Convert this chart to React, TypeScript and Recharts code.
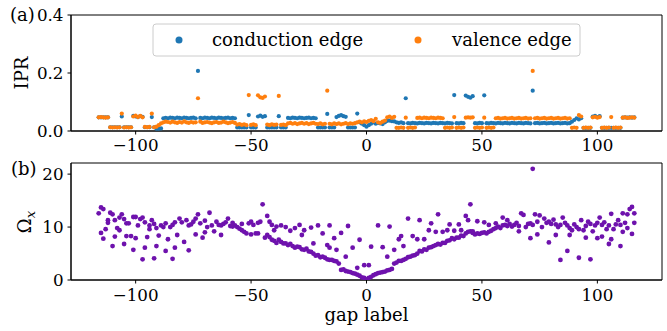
import React from 'react';
import { ScatterChart, Scatter, XAxis, YAxis, ReferenceArea } from 'recharts';

// gap labels run from -116 to 116, one IPR value per label
const GAP_FIRST = -116;

const conductionIPR = [
  0.047, 0.047, 0.047, 0.047, 0.047, 0.013, 0.013, 0.013, 0.013, 0.013,
  0.05, 0.013, 0.013, 0.013, 0.013, 0.052, 0.05, 0.048, 0.051, 0.049,
  0.013, 0.013, 0.013, 0.048, 0.013, 0.008, 0.008, 0.009, 0.044, 0.045,
  0.044, 0.046, 0.045, 0.044, 0.046, 0.045, 0.044, 0.046, 0.045, 0.044,
  0.045, 0.046, 0.044, 0.207, 0.045, 0.044, 0.046, 0.045, 0.044, 0.046,
  0.045, 0.044, 0.046, 0.045, 0.044, 0.045, 0.046, 0.044, 0.045, 0.044,
  0.012, 0.012, 0.012, 0.012, 0.012, 0.055, 0.012, 0.012, 0.012, 0.05,
  0.053, 0.049, 0.051, 0.012, 0.012, 0.012, 0.012, 0.012, 0.051, 0.012,
  0.012, 0.012, 0.045, 0.044, 0.046, 0.045, 0.044, 0.046, 0.045, 0.044,
  0.045, 0.046, 0.044, 0.045, 0.044, 0.012, 0.012, 0.012, 0.012, 0.059,
  0.012, 0.012, 0.012, 0.048, 0.052, 0.055, 0.051, 0.049, 0.012, 0.012,
  0.012, 0.012, 0.06, 0.03, 0.025, 0.02, 0.015, 0.02, 0.025, 0.03,
  0.025, 0.028, 0.026, 0.024, 0.03, 0.035, 0.036, 0.034, 0.033, 0.03,
  0.028, 0.03, 0.027, 0.113, 0.027, 0.026, 0.028, 0.027, 0.026, 0.028,
  0.027, 0.026, 0.028, 0.027, 0.026, 0.028, 0.027, 0.026, 0.028, 0.027,
  0.026, 0.028, 0.027, 0.026, 0.124, 0.027, 0.026, 0.028, 0.027, 0.122,
  0.118, 0.115, 0.12, 0.027, 0.026, 0.028, 0.027, 0.123, 0.027, 0.026,
  0.028, 0.027, 0.026, 0.028, 0.027, 0.026, 0.028, 0.027, 0.026, 0.028,
  0.027, 0.026, 0.028, 0.027, 0.026, 0.028, 0.027, 0.026, 0.139, 0.027,
  0.028, 0.026, 0.027, 0.028, 0.026, 0.027, 0.028, 0.026, 0.027, 0.028,
  0.026, 0.027, 0.028, 0.026, 0.027, 0.032, 0.038, 0.044, 0.04, 0.044,
  0.011, 0.011, 0.011, 0.011, 0.05, 0.052, 0.048, 0.051, 0.011, 0.011,
  0.011, 0.011, 0.011, 0.011, 0.011, 0.011, 0.011, 0.046, 0.047, 0.046,
  0.047, 0.046, 0.047,
];

const valenceIPR = [
  0.047, 0.048, 0.047, 0.046, 0.047, 0.013, 0.012, 0.013, 0.012, 0.013,
  0.06, 0.012, 0.013, 0.012, 0.013, 0.05, 0.053, 0.048, 0.052, 0.047,
  0.014, 0.013, 0.014, 0.06, 0.013, 0.015, 0.02, 0.026, 0.03, 0.032,
  0.031, 0.029, 0.032, 0.03, 0.028, 0.031, 0.029, 0.033, 0.03, 0.028,
  0.031, 0.029, 0.03, 0.113, 0.032, 0.028, 0.03, 0.031, 0.029, 0.027,
  0.03, 0.031, 0.028, 0.029, 0.032, 0.03, 0.027, 0.029, 0.031, 0.028,
  0.022, 0.024, 0.021, 0.023, 0.02, 0.124, 0.021, 0.023, 0.02, 0.123,
  0.116, 0.114, 0.119, 0.022, 0.02, 0.023, 0.021, 0.022, 0.121, 0.021,
  0.022, 0.02, 0.026, 0.028, 0.025, 0.027, 0.024, 0.026, 0.028, 0.025,
  0.027, 0.024, 0.026, 0.028, 0.025, 0.024, 0.026, 0.023, 0.025, 0.139,
  0.025, 0.023, 0.026, 0.024, 0.026, 0.023, 0.025, 0.027, 0.024, 0.026,
  0.025, 0.027, 0.03, 0.032, 0.03, 0.033, 0.031, 0.035, 0.038, 0.034,
  0.042, 0.03, 0.028, 0.032, 0.036, 0.047, 0.05, 0.045, 0.049, 0.011,
  0.011, 0.012, 0.011, 0.046, 0.011, 0.012, 0.011, 0.012, 0.045, 0.046,
  0.044, 0.046, 0.045, 0.044, 0.046, 0.045, 0.044, 0.046, 0.045, 0.044,
  0.011, 0.012, 0.011, 0.012, 0.048, 0.011, 0.012, 0.011, 0.012, 0.046,
  0.047, 0.046, 0.047, 0.011, 0.012, 0.011, 0.012, 0.046, 0.011, 0.012,
  0.011, 0.012, 0.044, 0.045, 0.043, 0.044, 0.045, 0.043, 0.044, 0.045,
  0.043, 0.044, 0.045, 0.043, 0.044, 0.045, 0.043, 0.044, 0.207, 0.044,
  0.045, 0.043, 0.044, 0.045, 0.043, 0.044, 0.045, 0.043, 0.044, 0.045,
  0.043, 0.044, 0.045, 0.043, 0.044, 0.011, 0.012, 0.011, 0.055, 0.05,
  0.011, 0.012, 0.011, 0.012, 0.047, 0.049, 0.046, 0.048, 0.011, 0.012,
  0.011, 0.012, 0.048, 0.011, 0.012, 0.011, 0.012, 0.046, 0.047, 0.045,
  0.046, 0.047, 0.046,
];

// main branch of Omega_x, one value per gap label
const omegaBand = [
  12.6, 13.7, 13.4, 9.6, 11.3, 12.7, 12.4, 11.3, 9.8, 9.4,
  12.4, 11.5, 10.7, 10.7, 8.3, 11.9, 11.9, 10.3, 11.5, 11.8,
  10.9, 8.1, 10.3, 11.3, 10.6, 9.8, 8.4, 10.3, 10.0, 10.7,
  7.7, 10.0, 10.4, 10.9, 8.5, 11.6, 10.9, 7.2, 11.3, 10.3,
  10.5, 11.0, 11.6, 12.4, 10.7, 8.0, 11.2, 10.0, 12.7, 10.3,
  9.2, 11.0, 10.4, 10.3, 10.6, 10.9, 11.6, 10.2, 10.1, 10.3,
  10.0, 9.7, 9.4, 9.1, 8.8, 10.7, 11.0, 10.4, 8.8, 8.8,
  11.0, 14.3, 8.0, 8.5, 8.1, 7.6, 7.4, 7.0, 7.6, 7.2,
  6.9, 6.9, 6.6, 6.8, 6.4, 6.1, 6.3, 6.2, 5.8, 5.7,
  5.9, 5.4, 5.3, 5.0, 4.6, 4.7, 4.3, 4.4, 4.2, 3.9,
  3.8, 3.8, 3.6, 3.5, 3.1, 1.9, 2.0, 1.7, 1.6, 1.5,
  1.3, 1.2, 1.0, 0.8, 0.5, 0.4, 0.1, 0.4, 0.6, 0.9,
  1.1, 1.3, 1.4, 1.5, 1.6, 1.8, 1.9, 2.1, 3.1, 3.3,
  3.6, 3.6, 3.8, 4.0, 4.3, 4.4, 4.6, 4.7, 5.0, 5.5,
  5.4, 5.8, 5.7, 6.1, 6.2, 6.4, 6.6, 6.8, 6.7, 7.0,
  7.0, 7.4, 7.5, 7.9, 7.7, 8.0, 8.0, 8.4, 8.3, 8.8,
  9.1, 9.2, 8.9, 8.6, 8.8, 8.7, 8.9, 9.0, 8.8, 9.1,
  9.3, 9.6, 9.8, 10.1, 9.8, 10.3, 10.4, 10.2, 10.6, 10.1,
  10.4, 10.8, 10.2, 12.6, 12.3, 10.0, 10.6, 10.7, 10.4, 12.4,
  11.0, 12.2, 10.0, 11.6, 10.8, 11.0, 10.6, 11.4, 10.5, 10.0,
  10.4, 11.8, 10.8, 10.3, 9.8, 9.4, 10.5, 10.0, 9.6, 11.3,
  9.4, 10.2, 11.0, 10.6, 9.2, 10.3, 10.8, 11.8, 10.4, 10.9,
  9.6, 10.3, 12.5, 9.6, 10.5, 11.3, 10.4, 12.6, 10.8, 12.4,
  13.4, 13.8, 12.6,
];

// scattered second points of Omega_x
const omegaExtraGap = [
  -115, -114, -112, -110, -109, -107, -105, -104, -101, -100, -97, -96, -94, -92, -91, -87, -84, -83, -77, -74, -70,
  -63, -58, -54, -50, -47,
  -43, -42, -41, -40, -39, -37, -35, -33, -31, -29, -28, -27, -24, -23, -21, -19, -17, -16, -16, -14, -13, -11, -9, -8, -6, -4, -3, -1,
  1, 2, 5, 7, 9, 10, 12, 14, 15, 16, 18, 20, 22, 23, 25, 27, 28, 30, 31, 33, 35, 36, 38, 40, 41, 43, 44, 45, 46, 48, 51, 53, 56, 59, 61,
  66, 71, 72, 74, 79, 82, 84, 87, 88, 92, 95, 97, 100, 102, 105, 106, 110, 111, 113, 115, 116,
];
const omegaExtraVal = [
  8.9, 7.8, 10.8, 6.4, 8.2, 11.8, 6.8, 8.3, 5.7, 7.9, 3.9, 6.1, 9.6, 4.1, 6.4, 5.5, 4.0, 6.1, 5.6, 8.6, 9.0,
  8.5, 10.8, 10.6, 8.6, 10.8,
  12.1, 11.0, 10.4, 9.4, 10.1, 10.3, 10.0, 9.3, 9.8, 10.4, 8.5, 9.4, 9.9, 6.9, 10.3, 8.8, 6.6, 10.3, 6.1, 7.9, 5.7, 8.9, 4.4, 10.2, 6.1, 2.3, 7.6, 2.8,
  2.8, 6.3, 10.3, 6.2, 4.4, 10.1, 5.7, 7.7, 8.3, 6.4, 11.6, 8.3, 7.7, 11.3, 7.7, 9.4, 10.7, 9.1, 12.4, 9.1, 9.4, 10.5, 9.3, 10.5, 9.4, 12.1, 11.3, 14.3, 9.2, 11.1, 10.9, 10.4, 10.7, 11.8, 11.3,
  9.2, 7.9, 21.0, 8.6, 7.1, 8.5, 3.8, 5.5, 8.5, 4.2, 8.0, 3.9, 7.9, 8.2, 6.8, 7.7, 6.4, 9.1, 9.8, 8.7, 10.8,
];

const xTicks = [-100, -50, 0, 50, 100];
const iprTicks = [0, 0.2, 0.4];
const omegaTicks = [0, 10, 20];

const FONT = 'DejaVu Serif, Liberation Serif, serif';
const tickStyle = { fill: '#000', fontSize: 16.7, fontFamily: FONT };
const minusFmt = (v: number) => (v < 0 ? '\u2212' + Math.abs(v) : String(v));

const byLabel = (vals: number[]) => vals.map((y, i) => ({ x: GAP_FIRST + i, y }));

const conductionPts = byLabel(conductionIPR);
const valencePts = byLabel(valenceIPR);
const omegaPts = [
  ...byLabel(omegaBand),
  ...omegaExtraGap.map((x, i) => ({ x, y: omegaExtraVal[i] })),
];

const dot = (color: string, r: number) => (props: any) => (
  <circle cx={props.cx} cy={props.cy} r={r} fill={color} />
);

export default function App() {
  return (
    <div style={{ position: 'absolute', left: 0, top: 0, width: 667, height: 331, background: '#fff', fontFamily: FONT }}>
      <div style={{ position: 'absolute', left: 0, top: 0 }}>
        <ScatterChart width={667} height={160} margin={{ top: 15, right: 5, bottom: 4, left: 21 }}>
          <XAxis
            type="number" dataKey="x" domain={[-128, 128]} ticks={xTicks} tickFormatter={minusFmt}
            allowDataOverflow height={25} stroke="#000" tick={tickStyle} tickSize={3.5} tickMargin={5}
          />
          <YAxis
            type="number" dataKey="y" domain={[0, 0.4]} ticks={iprTicks} tickFormatter={(v: number) => v.toFixed(1)}
            allowDataOverflow width={50} stroke="#000" tick={tickStyle} tickSize={3.5} tickMargin={4}
          />
          <ReferenceArea x1={-128} x2={128} y1={0} y2={0.4} fill="none" fillOpacity={0} stroke="#000" strokeOpacity={1} />
          <Scatter name="conduction edge" data={conductionPts} shape={dot('#1f77b4', 2.1)} isAnimationActive={false} />
          <Scatter name="valence edge" data={valencePts} shape={dot('#ff7f0e', 2.1)} isAnimationActive={false} />
        </ScatterChart>
      </div>
      <div style={{ position: 'absolute', left: 0, top: 150 }}>
        <ScatterChart width={667} height={181} margin={{ top: 13, right: 5, bottom: 26, left: 21 }}>
          <XAxis
            type="number" dataKey="x" domain={[-128, 128]} ticks={xTicks} tickFormatter={minusFmt}
            allowDataOverflow height={25} stroke="#000" tick={tickStyle} tickSize={3.5} tickMargin={6}
          />
          <YAxis
            type="number" dataKey="y" domain={[0, 22.1]} ticks={omegaTicks}
            allowDataOverflow width={50} stroke="#000" tick={tickStyle} tickSize={3.5} tickMargin={4}
          />
          <ReferenceArea x1={-128} x2={128} y1={0} y2={22.1} fill="none" fillOpacity={0} stroke="#000" strokeOpacity={1} />
          <Scatter data={omegaPts} shape={dot('#6e12ad', 2.4)} isAnimationActive={false} />
        </ScatterChart>
      </div>
      <svg width={667} height={331} style={{ position: 'absolute', left: 0, top: 0, pointerEvents: 'none' }}>
        <g fontFamily={FONT} fontSize={18} fill="#000">
          <text x={10} y={21}>(a)</text>
          <text x={11} y={175}>(b)</text>
          <text x={28} y={73} textAnchor="middle" transform="rotate(-90 28 73)">IPR</text>
          <text x={31} y={222} textAnchor="middle" transform="rotate(-90 31 222)">
            Ω<tspan fontSize={13} fontStyle="italic" dy={4}>x</tspan>
          </text>
          <text x={366.5} y={321} textAnchor="middle">gap label</text>
          <rect x={153} y={24} width={427} height={32} rx={3} fill="#fff" fillOpacity={0.8} stroke="#cccccc" />
          <circle cx={179} cy={40} r={3.5} fill="#1f77b4" />
          <text x={212} y={46}>conduction edge</text>
          <circle cx={418} cy={40} r={3.5} fill="#ff7f0e" />
          <text x={452} y={46}>valence edge</text>
        </g>
      </svg>
    </div>
  );
}
